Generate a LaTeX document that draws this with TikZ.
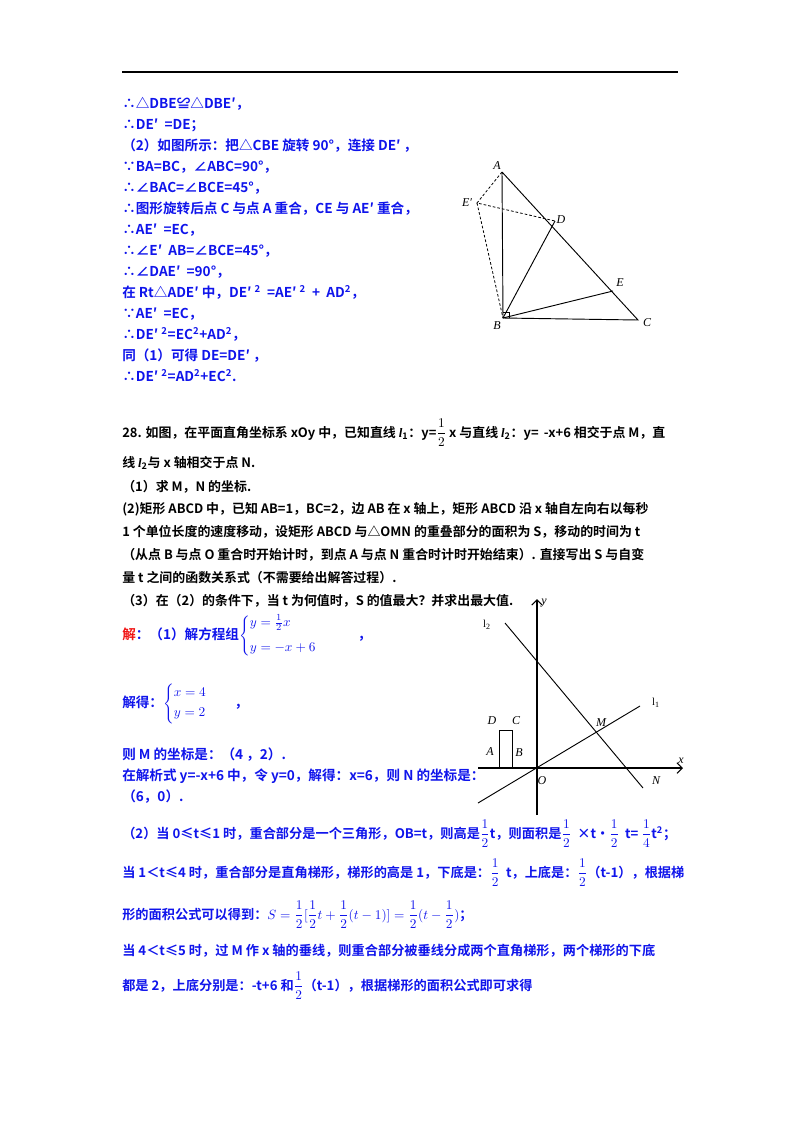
\documentclass[tikz,border=0pt]{standalone}
\usepackage{amsmath}
\usepackage{fontspec}
\setmainfont{Noto Sans CJK SC}[BoldFont={Noto Sans CJK SC Bold}]
\newfontfamily\tms{Liberation Serif}
\usetikzlibrary{arrows.meta}
\definecolor{bl}{RGB}{15,20,235}
\definecolor{rd}{RGB}{240,20,20}
\begin{document}
\begin{tikzpicture}[x=0.75pt,y=-0.75pt,
  bt/.style={anchor=base west,inner sep=0,font=\fontsize{10.2pt}{12pt}\selectfont\bfseries,text=bl},
  bs/.style={anchor=base west,inner sep=0,font=\fontsize{9.9pt}{12pt}\selectfont\bfseries,text=bl},
  kt/.style={anchor=base west,inner sep=0,font=\fontsize{9.7pt}{12pt}\selectfont\bfseries,text=black},
  lb/.style={inner sep=1pt,font=\fontsize{9pt}{10pt}\selectfont\tms\itshape},
  ln/.style={line width=0.7pt},
  dl/.style={line width=0.6pt,dash pattern=on 2pt off 1.5pt}]
\useasboundingbox (0,0) rectangle (800,1132);
\draw[line width=0.8pt] (122,72) -- (678,72);
% part 1 text
\node[bt] (t1) at (122,108) {∴△DBE≌△DBE′，};
\node[bt] (t2) at (122,129) {∴DE′\ \ =DE；};
\node[bt] (t3) at (122,150) {（2）如图所示：把△CBE 旋转 90°，连接 DE′\ ，};
\node[bt] (t4) at (122,171) {∵BA=BC，∠ABC=90°，};
\node[bt] (t5) at (122,192) {∴∠BAC=∠BCE=45°，};
\node[bt] (t6) at (122,213) {∴图形旋转后点 C 与点 A 重合，CE 与 AE′\ 重合，};
\node[bt] (t7) at (122,234) {∴AE′\ \ =EC，};
\node[bt] (t8) at (122,255) {∴∠E′\ \ AB=∠BCE=45°，};
\node[bt] (t9) at (122,276) {∴∠DAE′\ \ =90°，};
\node[bt] (t10) at (122,297) {在 Rt△ADE′\ 中，DE′\ \textsuperscript{2}\ \ =AE′\ \textsuperscript{2}\ \ +\ \ AD\textsuperscript{2}，};
\node[bt] (t11) at (122,318) {∵AE′\ \ =EC，};
\node[bt] (t12) at (122,339) {∴DE′\ \textsuperscript{2}=EC\textsuperscript{2}+AD\textsuperscript{2}，};
\node[bt] (t13) at (122,360) {同（1）可得 DE=DE′\ ，};
\node[bt] (t14) at (122,381) {∴DE′\ \textsuperscript{2}=AD\textsuperscript{2}+EC\textsuperscript{2}.};
% figure 1
\coordinate (A) at (502,172); \coordinate (B) at (503,318); \coordinate (C) at (638,320);
\coordinate (D) at (555,221); \coordinate (E) at (613,291); \coordinate (Ep) at (477,203);
\draw[ln] (A) -- (B) -- (C) -- (A);
\draw[ln] (B) -- (D); \draw[ln] (B) -- (E);
\draw[dl] (A) -- (Ep) -- (D); \draw[dl] (Ep) -- (B);
\draw[line width=0.5pt] (503,312) -- (509,312) -- (509,318);
\node[lb] (lA) at (497,166) {A}; \node[lb] (lEp) at (467,203) {E′};
\node[lb] (lD) at (561,220) {D}; \node[lb] (lE) at (620,283) {E};
\node[lb] (lB) at (497,326) {B}; \node[lb] (lC) at (647,323) {C};
% problem 28
\node[kt] (p1) at (122,437) {28. 如图，在平面直角坐标系 xOy 中，已知直线 {\tms\itshape l}\textsubscript{1}：y=$\dfrac{1}{2}$ x 与直线 {\tms\itshape l}\textsubscript{2}：y= \,-x+6 相交于点 M，直};
\node[kt] (p2) at (122,467) {线 {\tms\itshape l}\textsubscript{2}与 x 轴相交于点 N.};
\node[kt] (p3) at (122,491) {（1）求 M，N 的坐标.};
\node[kt] (p4) at (122,513) {(2)矩形 ABCD 中，已知 AB=1，BC=2，边 AB 在 x 轴上，矩形 ABCD 沿 x 轴自左向右以每秒};
\node[kt] (p5) at (122,536) {1 个单位长度的速度移动，设矩形 ABCD 与△OMN 的重叠部分的面积为 S，移动的时间为 t};
\node[kt] (p6) at (122,559) {（从点 B 与点 O 重合时开始计时，到点 A 与点 N 重合时计时开始结束）. 直接写出 S 与自变};
\node[kt] (p7) at (122,582) {量 t 之间的函数关系式（不需要给出解答过程）.};
\node[kt] (p8) at (122,605) {（3）在（2）的条件下，当 t 为何值时，S 的值最大？并求出最大值.};
% solution
\node[bt] (s1) at (122,639) {\textcolor{rd}{解}：（1）解方程组$\left\{\begin{aligned}&y=\tfrac{1}{2}x\\[4pt]&y=-x+6\end{aligned}\right.$\qquad\quad ，};
\node[bt] (s2) at (122,707) {解得：$\left\{\begin{aligned}&x=4\\&y=2\end{aligned}\right.$\qquad ，};
\node[bt] (s3) at (122,759) {则 M 的坐标是：（4 ，2）.};
\node[bt] (s4) at (122,780) {在解析式 y=-x+6 中，令 y=0，解得：x=6，则 N 的坐标是：};
\node[bt] (s5) at (122,801) {（6，0）.};
\node[bs] (s6) at (122,838) {（2）当 0≤t≤1 时，重合部分是一个三角形，OB=t，则高是$\dfrac{1}{2}$t，则面积是$\dfrac{1}{2}$ \ ×t•$\dfrac{1}{2}$ \ t= $\dfrac{1}{4}$t\textsuperscript{2}；};
\node[bs] (s7) at (122,877) {当 1＜t≤4 时，重合部分是直角梯形，梯形的高是 1，下底是：$\dfrac{1}{2}$ \ t，上底是：$\dfrac{1}{2}$（t-1），根据梯};
\node[bs] (s8) at (122,919) {形的面积公式可以得到：$S=\dfrac{1}{2}[\dfrac{1}{2}t+\dfrac{1}{2}(t-1)]=\dfrac{1}{2}(t-\dfrac{1}{2})$；};
\node[bs] (s9) at (122,955) {当 4＜t≤5 时，过 M 作 x 轴的垂线，则重合部分被垂线分成两个直角梯形，两个梯形的下底};
\node[bs] (s10) at (122,990) {都是 2，上底分别是：-t+6 和$\dfrac{1}{2}$（t-1），根据梯形的面积公式即可求得};
% figure 2
\coordinate (xs) at (478,768); \coordinate (xe) at (683,768);
\coordinate (ys) at (537,815); \coordinate (ye) at (537,599);
\draw[line width=0.8pt,-{Straight Barb[length=4pt]}] (xs) -- (xe);
\draw[line width=0.8pt,-{Straight Barb[length=4pt]}] (ys) -- (ye);
\coordinate (L2a) at (505,623); \coordinate (L2b) at (643,788);
\coordinate (L1a) at (478,803); \coordinate (L1b) at (640,706);
\draw[ln] (L2a) -- (L2b); \draw[ln] (L1a) -- (L1b);
\draw[ln] (499,768) rectangle (512,730);
\node[lb] (lx) at (681,761) {x}; \node[lb] (ly) at (544,603) {y};
\node[lb] (lO) at (542,781) {O}; \node[lb] (lM) at (601,723) {M};
\node[lb] (lN) at (656,781) {N};
\node[lb,font=\fontsize{8pt}{9pt}\selectfont\tms] (l1) at (656,703) {l\textsubscript{1}};
\node[lb,font=\fontsize{8pt}{9pt}\selectfont\tms] (l2) at (487,625) {l\textsubscript{2}};
\node[lb] (rD) at (492,721) {D}; \node[lb] (rC) at (516,721) {C};
\node[lb] (rA) at (490,752) {A}; \node[lb] (rB) at (519,753) {B};
\end{tikzpicture}
\end{document}
